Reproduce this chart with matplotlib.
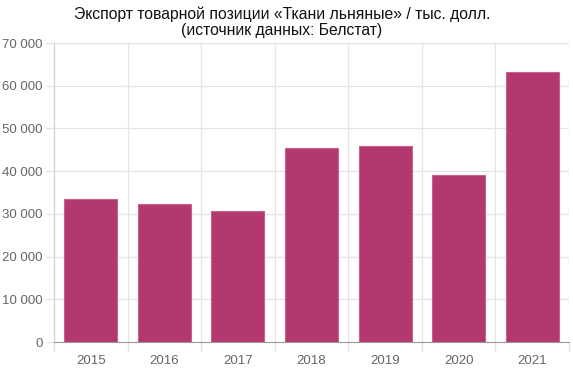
import matplotlib
matplotlib.use("Agg")
import matplotlib.pyplot as plt
import numpy as np
from matplotlib.ticker import FuncFormatter, FixedLocator

years = ["2015", "2016", "2017", "2018", "2019", "2020", "2021"]
export_values = [33500, 32300, 30700, 45400, 45800, 39100, 63200]

plt.rcParams["font.family"] = ["Liberation Sans", "DejaVu Sans"]

BAR_COLOR = "#b3386f"
GRID_COLOR = "#e5e5e5"
TEXT_COLOR = "#666666"


def _fmt_thousands(value: float, _pos: float) -> str:
    return f"{int(value):,}".replace(",", " ")


fig = plt.figure(figsize=(5.73, 3.73), dpi=100)
ax = fig.add_axes([0.0942, 0.0831, 0.8988, 0.8016])

x = np.arange(len(years))
ax.bar(x, export_values, width=0.72, color=BAR_COLOR, edgecolor="#c7628f",
       linewidth=0.8, zorder=3)

ax.set_xlim(-0.5, len(years) - 0.5)
ax.set_ylim(0, 70000)
ax.yaxis.set_major_locator(FixedLocator(np.arange(0, 70001, 10000)))
ax.yaxis.set_major_formatter(FuncFormatter(_fmt_thousands))

# gridlines at category boundaries, labels at centres
ax.xaxis.set_major_locator(FixedLocator(np.arange(-0.5, len(years), 1.0)))
ax.set_xticklabels([""] * (len(years) + 1))
ax.set_xticks(x, minor=True)
ax.set_xticklabels(years, minor=True)
ax.tick_params(axis="x", which="major", length=7, color=GRID_COLOR, width=1)
ax.tick_params(axis="x", which="minor", length=0, pad=9, labelsize=9.5,
               labelcolor=TEXT_COLOR)
ax.tick_params(axis="y", length=6, color=GRID_COLOR, width=1, labelsize=9.5,
               labelcolor=TEXT_COLOR, pad=2)

ax.grid(True, which="major", color=GRID_COLOR, linewidth=0.9, zorder=0)
ax.set_axisbelow(True)
for side in ("top", "right"):
    ax.spines[side].set_visible(False)
ax.spines["left"].set_color("#d0d0d0")
ax.spines["bottom"].set_color("#9a9a9a")

fig.text(0.492, 0.963, "Экспорт товарной позиции «Ткани льняные» / тыс. долл.",
         ha="center", va="center", fontsize=11.3, color="#111111")
fig.text(0.492, 0.917, "(источник данных: Белстат)",
         ha="center", va="center", fontsize=11.3, color="#111111")

fig.savefig("out.png", dpi=100)
plt.close(fig)
